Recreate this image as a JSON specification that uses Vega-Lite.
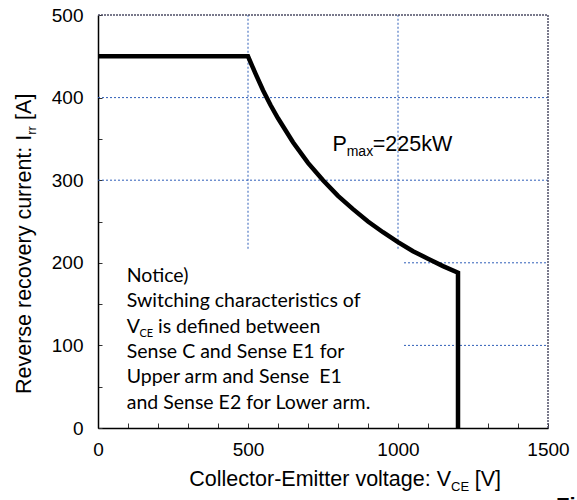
{
  "$schema": "https://vega.github.io/schema/vega-lite/v6.json",
  "width": 450,
  "height": 413,
  "autosize": {"type": "none"},
  "padding": {"left": 98, "top": 15, "right": 29, "bottom": 72},
  "background": "white",
  "config": {"view": {"stroke": null}},
  "datasets": {
    "curve": [
      {"order": 0, "x": 0, "y": 450},
      {"order": 1, "x": 500, "y": 450},
      {"order": 2, "x": 525, "y": 429},
      {"order": 3, "x": 550, "y": 409},
      {"order": 4, "x": 575, "y": 391},
      {"order": 5, "x": 600, "y": 375},
      {"order": 6, "x": 650, "y": 346},
      {"order": 7, "x": 700, "y": 321},
      {"order": 8, "x": 750, "y": 300},
      {"order": 9, "x": 800, "y": 281},
      {"order": 10, "x": 850, "y": 265},
      {"order": 11, "x": 900, "y": 250},
      {"order": 12, "x": 950, "y": 237},
      {"order": 13, "x": 1000, "y": 225},
      {"order": 14, "x": 1050, "y": 214},
      {"order": 15, "x": 1100, "y": 205},
      {"order": 16, "x": 1150, "y": 196},
      {"order": 17, "x": 1200, "y": 188},
      {"order": 18, "x": 1200, "y": 0}
    ],
    "grid": [
      {"x": 0, "x2": 1500, "y": 400, "y2": 400},
      {"x": 0, "x2": 1500, "y": 300, "y2": 300},
      {"x": 1020, "x2": 1500, "y": 200, "y2": 200},
      {"x": 1020, "x2": 1500, "y": 100, "y2": 100},
      {"x": 500, "x2": 500, "y": 217, "y2": 500},
      {"x": 1000, "x2": 1000, "y": 217, "y2": 500}
    ],
    "frame": [
      {"x": 0, "x2": 1500, "y": 500, "y2": 500},
      {"x": 1500, "x2": 1500, "y": 0, "y2": 500}
    ],
    "notice": [
      {"x": 95.7, "y": 176.5, "text": "Notice)"},
      {"x": 95.7, "y": 146.0, "text": "Switching characteristics of"},
      {"x": 95.7, "y": 115.4, "text": "V"},
      {"x": 200, "y": 115.4, "text": "is defined between"},
      {"x": 95.7, "y": 84.8, "text": "Sense C and Sense E1 for"},
      {"x": 95.7, "y": 54.2, "text": "Upper arm and Sense\u00a0 E1"},
      {"x": 95.7, "y": 23.6, "text": "and Sense E2 for Lower arm."}
    ],
    "noticeSub": [{"x": 138, "y": 115.4, "text": "CE"}],
    "pmax": [
      {"x": 782, "y": 335, "text": "P"},
      {"x": 915.7, "y": 335, "text": "=225kW"}
    ],
    "pmaxSub": [{"x": 829, "y": 335, "text": "max"}],
    "xTitleMain": [{"x": 1176.7, "y": -70, "text": "Collector-Emitter voltage: V"}],
    "xTitleSub": [{"x": 1176.7, "y": -70, "text": "CE"}],
    "xTitleEnd": [{"x": 1256, "y": -70, "text": "[V]"}],
    "yTitleMain": [{"x": -221.7, "y": 355, "text": "Reverse recovery current: I"}],
    "yTitleSub": [{"x": -221.7, "y": 355, "text": "rr"}],
    "yTitleEnd": [{"x": -221.7, "y": 373, "text": "[A]"}],
    "caption": [{"x": 1527, "y": -103.5, "text": "Fig."}]
  },
  "encoding": {
    "x": {
      "field": "x",
      "type": "quantitative",
      "scale": {"domain": [0, 1500], "nice": false, "zero": false},
      "axis": {
        "title": null,
        "grid": false,
        "values": [0, 100, 200, 300, 400, 500, 600, 700, 800, 900, 1000, 1100, 1200, 1300, 1400, 1500],
        "labelExpr": "datum.value % 500 === 0 ? datum.label : ''",
        "format": "d",
        "tickSize": -5,
        "tickColor": "#333333",
        "tickWidth": 1,
        "domainColor": "#000000",
        "domainWidth": 1.5,
        "labelFont": "Liberation Sans",
        "labelFontSize": 19,
        "labelColor": "#000000",
        "labelPadding": 17,
        "labelFlush": false,
        "labelOverlap": false
      }
    },
    "y": {
      "field": "y",
      "type": "quantitative",
      "scale": {"domain": [0, 500], "nice": false, "zero": false},
      "axis": {
        "title": null,
        "grid": false,
        "values": [0, 50, 100, 150, 200, 250, 300, 350, 400, 450, 500],
        "labelExpr": "datum.value % 100 === 0 ? datum.label : ''",
        "format": "d",
        "tickSize": -4,
        "tickColor": "#333333",
        "tickWidth": 1,
        "domainColor": "#000000",
        "domainWidth": 1.5,
        "labelFont": "Liberation Sans",
        "labelFontSize": 19,
        "labelColor": "#000000",
        "labelPadding": 19,
        "labelFlush": false,
        "labelOverlap": false
      }
    }
  },
  "layer": [
    {
      "data": {"name": "grid"},
      "mark": {"type": "rule", "color": "#2f5eb8", "strokeWidth": 1, "strokeDash": [2, 2]},
      "encoding": {"x2": {"field": "x2"}, "y2": {"field": "y2"}}
    },
    {
      "data": {"name": "frame"},
      "mark": {"type": "rule", "color": "#4d4d66", "strokeWidth": 1.5, "strokeDash": [2, 1]},
      "encoding": {"x2": {"field": "x2"}, "y2": {"field": "y2"}}
    },
    {
      "data": {"name": "curve"},
      "mark": {"type": "line", "color": "#000000", "strokeWidth": 4.5, "strokeJoin": "miter", "strokeCap": "butt"},
      "encoding": {"order": {"field": "order", "type": "quantitative"}}
    },
    {
      "data": {"name": "notice"},
      "mark": {"type": "text", "font": "Lato", "fontSize": 19.5, "align": "left", "baseline": "alphabetic", "color": "#000000"},
      "encoding": {"text": {"field": "text"}}
    },
    {
      "data": {"name": "noticeSub"},
      "mark": {"type": "text", "font": "Lato", "fontSize": 11, "align": "left", "baseline": "alphabetic", "dy": 4, "color": "#000000"},
      "encoding": {"text": {"field": "text"}}
    },
    {
      "data": {"name": "pmax"},
      "mark": {"type": "text", "font": "Liberation Sans", "fontSize": 21.5, "align": "left", "baseline": "alphabetic", "color": "#000000"},
      "encoding": {"text": {"field": "text"}}
    },
    {
      "data": {"name": "pmaxSub"},
      "mark": {"type": "text", "font": "Liberation Sans", "fontSize": 14, "align": "left", "baseline": "alphabetic", "dy": 4.5, "color": "#000000"},
      "encoding": {"text": {"field": "text"}}
    },
    {
      "data": {"name": "xTitleMain"},
      "mark": {"type": "text", "font": "Liberation Sans", "fontSize": 21.5, "align": "right", "baseline": "alphabetic", "color": "#000000"},
      "encoding": {"text": {"field": "text"}}
    },
    {
      "data": {"name": "xTitleSub"},
      "mark": {"type": "text", "font": "Liberation Sans", "fontSize": 13, "align": "left", "baseline": "alphabetic", "dy": 5, "color": "#000000"},
      "encoding": {"text": {"field": "text"}}
    },
    {
      "data": {"name": "xTitleEnd"},
      "mark": {"type": "text", "font": "Liberation Sans", "fontSize": 21.5, "align": "left", "baseline": "alphabetic", "color": "#000000"},
      "encoding": {"text": {"field": "text"}}
    },
    {
      "data": {"name": "yTitleMain"},
      "mark": {"type": "text", "font": "Liberation Sans", "fontSize": 21.5, "align": "right", "baseline": "alphabetic", "angle": 270, "color": "#000000"},
      "encoding": {"text": {"field": "text"}}
    },
    {
      "data": {"name": "yTitleSub"},
      "mark": {"type": "text", "font": "Liberation Sans", "fontSize": 13, "align": "left", "baseline": "alphabetic", "angle": 270, "dy": 5, "color": "#000000"},
      "encoding": {"text": {"field": "text"}}
    },
    {
      "data": {"name": "yTitleEnd"},
      "mark": {"type": "text", "font": "Liberation Sans", "fontSize": 21.5, "align": "left", "baseline": "alphabetic", "angle": 270, "color": "#000000"},
      "encoding": {"text": {"field": "text"}}
    },
    {
      "data": {"name": "caption"},
      "mark": {"type": "text", "font": "Liberation Sans", "fontSize": 22, "fontWeight": "bold", "align": "left", "baseline": "alphabetic", "color": "#000000"},
      "encoding": {"text": {"field": "text"}}
    }
  ]
}
